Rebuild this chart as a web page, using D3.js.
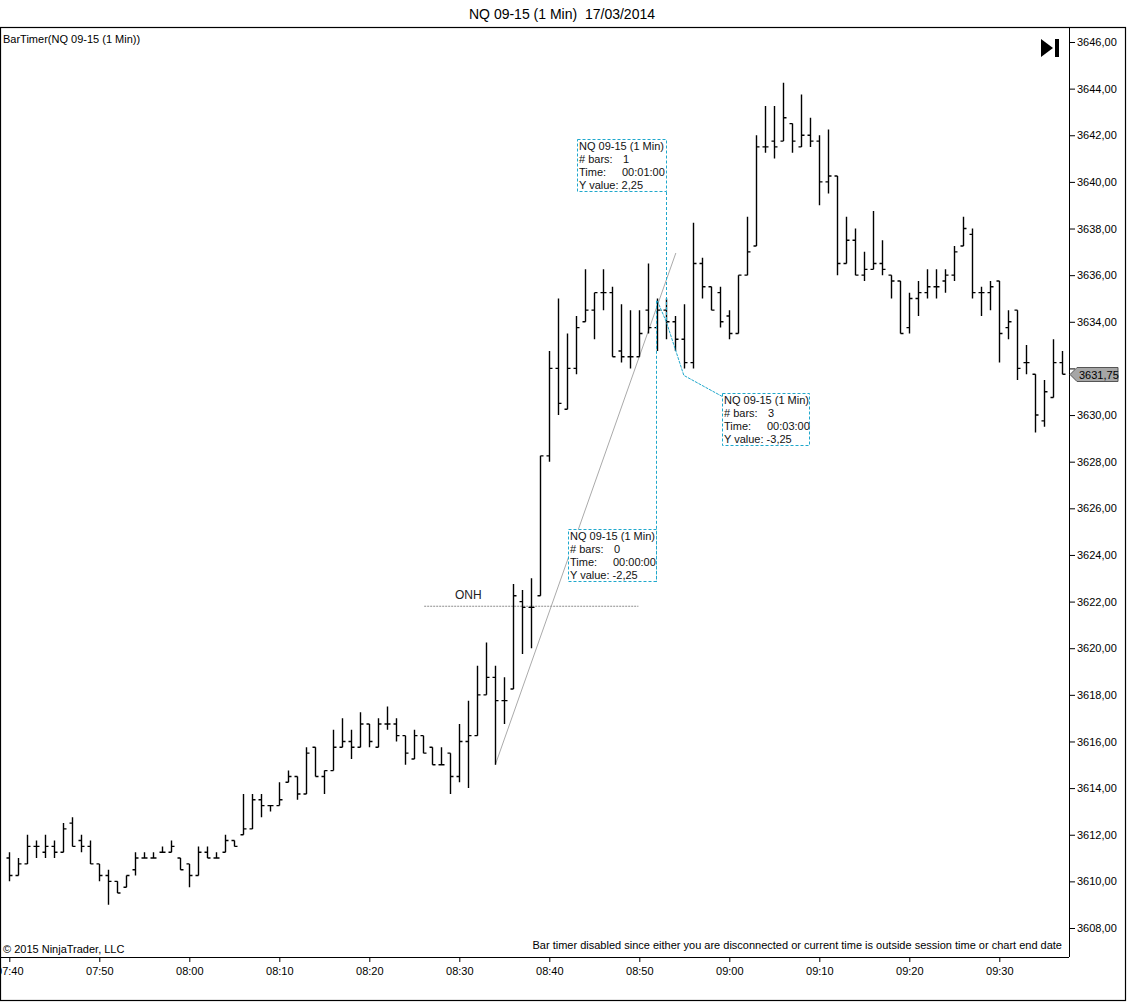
<!DOCTYPE html>
<html>
<head>
<meta charset="utf-8">
<script src="https://cdn.jsdelivr.net/npm/d3@7"></script>
<style>
  body { margin: 0; background: #fff; }
  text { font-family: "Liberation Sans", Arial, sans-serif; }
</style>
</head>
<body>
<div id="chart"></div>
<script>
// bar data, one bar per minute starting 07:40
var startTime = "07:40";
var opens  = [3611.0,3610.25,3610.75,3611.5,3611.25,3611.5,3611.25,3612.5,3611.75,3611.5,
              3610.75,3610.25,3610.0,3609.75,3610.5,3611.0,3611.0,3611.25,3611.25,3611.0,
              3610.75,3610.25,3611.25,3611.0,3611.25,3611.75,3612.0,3612.25,3613.5,3613.25,
              3613.25,3614.25,3614.5,3613.75,3615.75,3614.5,3614.75,3615.75,3616.0,3615.75,
              3616.75,3615.75,3616.75,3616.75,3616.25,3615.25,3616.25,3615.75,3615.0,3615.5,
              3614.5,3616.0,3616.25,3618.0,3618.75,3617.75,3618.25,3622.0,3621.75,3622.25,
              3628.25,3632.0,3630.25,3632.0,3634.0,3634.5,3635.25,3635.25,3632.75,3632.5,
              3632.5,3634.5,3633.75,3634.5,3634.0,3633.25,3632.25,3636.5,3635.5,3635.25,
              3634.25,3633.5,3636.0,3637.25,3641.5,3641.75,3641.75,3642.5,3641.5,3642.0,
              3641.75,3640.0,3640.25,3636.5,3637.5,3636.0,3636.25,3636.5,3636.0,3635.75,
              3633.75,3635.0,3635.25,3635.5,3635.75,3636.0,3637.25,3637.75,3635.25,3635.25,
              3635.75,3633.75,3634.5,3632.25,3631.75,3629.75,3630.75,3632.25];
var highs  = [3611.25,3611.0,3612.0,3611.75,3612.0,3611.75,3612.5,3612.75,3612.0,3611.75,
              3610.75,3610.5,3610.0,3610.25,3611.25,3611.25,3611.25,3611.5,3611.75,3611.0,
              3610.75,3611.5,3611.5,3611.25,3612.0,3611.75,3613.75,3613.75,3613.75,3613.25,
              3614.25,3614.75,3614.5,3615.75,3615.75,3614.75,3616.5,3617.0,3616.5,3617.25,
              3616.75,3617.0,3617.5,3617.0,3616.25,3616.5,3616.25,3615.75,3615.75,3615.5,
              3616.75,3617.75,3619.25,3620.25,3619.25,3618.75,3622.75,3622.5,3623.0,3628.25,
              3632.75,3635.0,3633.5,3634.25,3636.25,3635.25,3636.25,3635.5,3634.75,3634.5,
              3634.5,3636.5,3635.0,3635.0,3634.25,3634.75,3638.25,3636.75,3635.5,3635.5,
              3634.5,3636.0,3638.5,3642.0,3643.25,3643.25,3644.25,3642.5,3643.75,3642.75,
              3642.0,3642.25,3640.25,3638.5,3638.0,3637.0,3638.75,3637.5,3636.0,3635.75,
              3635.25,3635.75,3636.25,3636.25,3636.25,3637.25,3638.5,3638.0,3635.5,3635.75,
              3635.75,3634.5,3634.5,3633.0,3631.75,3631.5,3633.25,3632.75];
var lows   = [3610.0,3610.25,3610.75,3611.0,3611.0,3611.0,3611.25,3611.5,3611.25,3610.75,
              3610.0,3609.0,3609.5,3609.75,3610.25,3611.0,3611.0,3611.25,3611.25,3610.5,
              3609.75,3610.25,3611.0,3611.0,3611.25,3611.5,3612.0,3612.25,3612.75,3613.0,
              3613.25,3614.25,3613.5,3613.75,3614.5,3613.75,3614.75,3615.75,3615.25,3615.75,
              3615.75,3615.75,3616.5,3616.0,3615.0,3615.25,3615.5,3615.0,3615.0,3613.75,
              3614.25,3614.0,3616.25,3618.0,3615.0,3616.75,3618.25,3619.75,3620.0,3622.25,
              3628.0,3630.0,3630.25,3631.75,3634.0,3633.25,3634.5,3632.5,3632.25,3632.0,
              3632.5,3633.5,3632.75,3633.25,3632.75,3632.0,3632.0,3635.0,3634.5,3633.75,
              3633.25,3633.5,3636.0,3637.25,3641.25,3641.0,3641.75,3641.25,3641.5,3641.5,
              3639.0,3639.5,3636.0,3636.5,3636.0,3635.75,3636.25,3636.0,3635.0,3633.5,
              3633.5,3634.25,3635.0,3635.0,3635.25,3635.75,3637.25,3635.0,3634.25,3634.5,
              3632.25,3633.25,3631.5,3631.75,3629.25,3629.5,3630.75,3631.75];
var closes = [3610.25,3610.75,3611.5,3611.5,3611.5,3611.25,3612.25,3611.5,3611.5,3610.75,
              3610.25,3610.0,3609.5,3610.25,3611.0,3611.0,3611.0,3611.25,3611.5,3610.5,
              3610.25,3611.25,3611.0,3611.0,3611.75,3611.5,3612.25,3613.5,3613.25,3613.25,
              3613.5,3614.5,3613.75,3615.5,3614.5,3614.75,3615.75,3616.0,3615.75,3616.75,
              3616.0,3616.75,3616.75,3616.25,3615.5,3616.25,3615.5,3615.0,3615.0,3614.5,
              3616.0,3616.25,3618.0,3618.75,3617.75,3617.75,3622.25,3621.75,3621.75,3628.25,
              3632.0,3630.5,3632.0,3633.75,3634.5,3635.25,3635.25,3632.5,3632.5,3632.5,
              3633.5,3633.75,3634.5,3634.0,3633.25,3632.25,3636.5,3635.5,3634.5,3634.0,
              3633.5,3636.0,3637.0,3641.5,3641.5,3641.5,3642.75,3641.75,3642.0,3641.75,
              3640.0,3640.25,3636.5,3637.5,3636.0,3636.25,3636.5,3636.25,3635.75,3633.5,
              3635.0,3635.25,3635.5,3635.5,3636.0,3637.0,3638.0,3635.25,3635.25,3635.5,
              3633.5,3634.0,3632.0,3632.25,3630.0,3631.0,3632.25,3631.75];

// axis ticks
var xTickMinutes = [0, 10, 20, 30, 40, 50, 60, 70, 80, 90, 100, 110];
var yTickValues = d3.range(3608, 3647, 2);

// drawings on the chart (bar index, price)
var trendStart = [54, 3615.0], trendEnd = [74.06, 3636.95];
var onhLevel = 3621.8, onhFrom = 46.1, onhTo = 69.9, onhLabelAt = 51;
var measurePath = [[72, 3634.9], [73, 3634.0], [74.95, 3631.7], [79.2, 3630.8]];
var boxAnchors = [[63.1, 3641.84], [79.2, 3630.95], [62.1, 3625.11]];
var boxBars = ["1", "3", "0"];
var boxTimes = ["00:01:00", "00:03:00", "00:00:00"];
var boxYValues = ["2,25", "-3,25", "-2,25"];

var width = 1130, height = 1002;
var plotRight = 1069, plotTop = 27, plotBottom = 957;
var cyan = "#1fa8cc";

var svg = d3.select("#chart").append("svg")
  .attr("width", width)
  .attr("height", height);

var x = d3.scaleLinear().domain([0, 117]).range([9.3, 1062.3]);
var y = d3.scaleLinear().domain([3608, 3646]).range([928, 42]);

function timeLabel(m) {
  var p = startTime.split(":");
  var t = (+p[0]) * 60 + (+p[1]) + m;
  return d3.format("02d")(Math.floor(t / 60)) + ":" + d3.format("02d")(t % 60);
}
function price(v) { return d3.format(".2f")(v).replace(".", ","); }

var last = closes[closes.length - 1];

// title
svg.append("text")
  .attr("x", 562).attr("y", 19)
  .attr("text-anchor", "middle")
  .style("font-size", "14px")
  .style("white-space", "pre")
  .attr("fill", "#000")
  .text("NQ 09-15 (1 Min)  17/03/2014");

// outer frame
svg.append("rect")
  .attr("x", 0.5).attr("y", plotTop + 0.5)
  .attr("width", 1125).attr("height", 1000 - plotTop)
  .attr("fill", "none").attr("stroke", "#000").attr("stroke-width", 1.2);

// x axis
var xAxis = svg.append("g")
  .attr("transform", "translate(0," + plotBottom + ")")
  .call(d3.axisBottom(x).tickValues(xTickMinutes).tickSize(5).tickSizeOuter(0).tickFormat(timeLabel));
xAxis.select(".domain").attr("d", "M0,0.5H" + plotRight).attr("stroke", "#000");
xAxis.selectAll("text").style("font-size", "11px").attr("fill", "#000").attr("dy", "0.95em");

// y axis (labels under the last price tag are hidden, like the platform does)
var yAxis = svg.append("g")
  .attr("transform", "translate(" + plotRight + ",0)")
  .call(d3.axisRight(y).tickValues(yTickValues).tickSize(6).tickSizeOuter(0).tickFormat(price));
yAxis.select(".domain").attr("d", "M0.5," + plotTop + "V" + plotBottom).attr("stroke", "#000");
yAxis.selectAll("text").style("font-size", "11px").attr("fill", "#000").attr("x", 8);
yAxis.selectAll(".tick")
  .filter(function (d) { return Math.abs(y(d) - y(last)) < 12; })
  .select("text").remove();

// labels in the plot
svg.append("text")
  .attr("x", 3).attr("y", 43)
  .style("font-size", "11px").attr("fill", "#000")
  .text("BarTimer(NQ 09-15 (1 Min))");
svg.append("text")
  .attr("x", 3).attr("y", 953)
  .style("font-size", "11px").attr("fill", "#000")
  .text("\u00a9 2015 NinjaTrader, LLC");
svg.append("text")
  .attr("x", 1062).attr("y", 949)
  .attr("text-anchor", "end")
  .style("font-size", "11px").attr("fill", "#000")
  .text("Bar timer disabled since either you are disconnected or current time is outside session time or chart end date");

// scroll-to-end icon
svg.append("path")
  .attr("d", "M1041,39L1053,48L1041,57Z")
  .attr("fill", "#000");
svg.append("rect")
  .attr("x", 1055).attr("y", 39).attr("width", 4).attr("height", 18)
  .attr("fill", "#000");

// ONH line
svg.append("line")
  .attr("x1", x(onhFrom)).attr("x2", x(onhTo))
  .attr("y1", y(onhLevel)).attr("y2", y(onhLevel))
  .attr("stroke", "#8c8c8c").attr("stroke-dasharray", "2,1");
svg.append("text")
  .attr("x", x(onhLabelAt)).attr("y", y(onhLevel) - 7)
  .attr("text-anchor", "middle")
  .style("font-size", "12px").attr("fill", "#222")
  .text("ONH");

// trend line
svg.append("line")
  .attr("x1", x(trendStart[0])).attr("y1", y(trendStart[1]))
  .attr("x2", x(trendEnd[0])).attr("y2", y(trendEnd[1]))
  .attr("stroke", "#aaa").attr("stroke-width", 1);

// OHLC bars
var bars = d3.range(opens.length);
svg.append("g")
  .selectAll("path")
  .data(bars)
  .enter()
  .append("path")
    .attr("d", function (i) {
      var cx = Math.round(x(i)) + 0.5;
      return "M" + cx + "," + y(highs[i]) + "V" + y(lows[i]) +
             "M" + (cx - 3) + "," + y(opens[i]) + "H" + cx +
             "M" + cx + "," + y(closes[i]) + "H" + (cx + 3);
    })
    .attr("stroke", "#000")
    .attr("stroke-width", 1.4)
    .attr("fill", "none");

// measure tool lines
svg.append("path")
  .attr("d", d3.line().x(function (d) { return x(d[0]); }).y(function (d) { return y(d[1]); })(measurePath))
  .attr("fill", "none").attr("stroke", cyan).attr("stroke-width", 1)
  .attr("stroke-dasharray", "3,1");

var boxW = [90, 88, 89], boxH = 53;
var boxes = svg.append("g")
  .selectAll("g")
  .data(boxAnchors)
  .enter()
  .append("g")
    .attr("transform", function (d) { return "translate(" + Math.round(x(d[0])) + "," + Math.round(y(d[1])) + ")"; });

// vertical dashed connectors from box 1 and box 3
var b1 = boxAnchors[0], b3 = boxAnchors[2];
svg.append("line")
  .attr("x1", Math.round(x(b1[0])) + boxW[0] - 0.5).attr("x2", Math.round(x(b1[0])) + boxW[0] - 0.5)
  .attr("y1", Math.round(y(b1[1])) + boxH).attr("y2", y(measurePath[1][1]))
  .attr("stroke", cyan).attr("stroke-dasharray", "3,2");
svg.append("line")
  .attr("x1", Math.round(x(b3[0])) + boxW[2] - 0.5).attr("x2", Math.round(x(b3[0])) + boxW[2] - 0.5)
  .attr("y1", y(measurePath[0][1])).attr("y2", Math.round(y(b3[1])) + boxH)
  .attr("stroke", cyan).attr("stroke-dasharray", "3,2");

boxes.append("rect")
  .attr("x", 0.5).attr("y", 0.5)
  .attr("width", function (d, i) { return boxW[i] - 1; })
  .attr("height", boxH - 1)
  .attr("fill", "#fff")
  .attr("stroke", cyan).attr("stroke-dasharray", "3,2");

boxes.each(function (d, i) {
  var g = d3.select(this);
  var rows = [["NQ 09-15 (1 Min)", ""], ["# bars:", boxBars[i]], ["Time:", boxTimes[i]], ["Y value: " + boxYValues[i], ""]];
  rows.forEach(function (r, k) {
    g.append("text")
      .attr("x", 2).attr("y", 11 + k * 13)
      .style("font-size", "11px").attr("fill", "#111")
      .text(r[0]);
    if (r[1] !== "") {
      g.append("text")
        .attr("x", k === 1 ? 46 : 45).attr("y", 11 + k * 13)
        .style("font-size", "11px").attr("fill", "#111")
        .text(r[1]);
    }
  });
});

// last price tag
var ly = Math.round(y(last)) + 0.5;
svg.append("path")
  .attr("d", "M1070," + ly + "L1077," + (ly - 7) + "H1118V" + (ly + 7) + "H1077Z")
  .attr("fill", "#a6a6a6").attr("stroke", "#555");
svg.append("text")
  .attr("x", 1079).attr("y", ly + 4)
  .style("font-size", "11px").attr("fill", "#000")
  .text(price(last));
</script>
</body>
</html>
